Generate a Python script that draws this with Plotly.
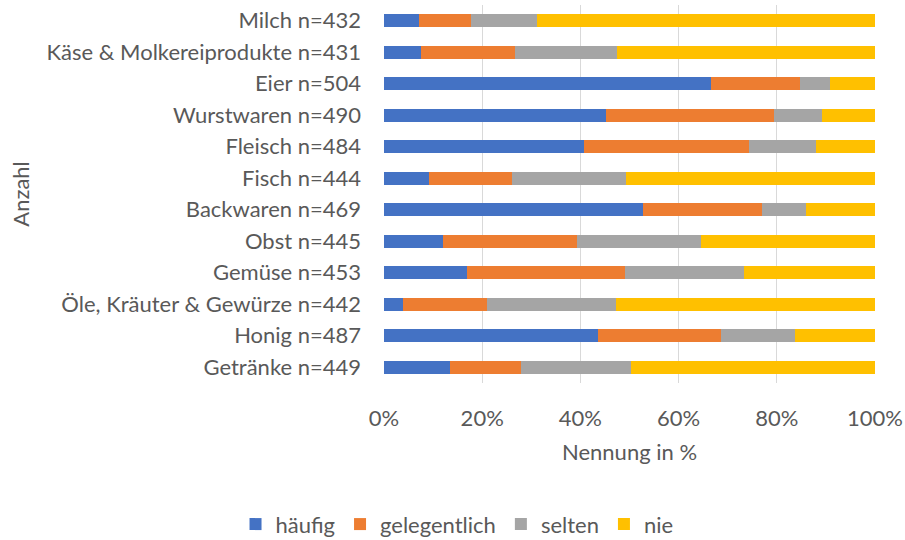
import plotly.graph_objects as go

categories = ["Milch n=432", "Käse & Molkereiprodukte n=431", "Eier n=504", "Wurstwaren n=490",
              "Fleisch n=484", "Fisch n=444", "Backwaren n=469", "Obst n=445", "Gemüse n=453",
              "Öle, Kräuter & Gewürze n=442", "Honig n=487", "Getränke n=449"]
haeufig = [7.2, 7.5, 66.5, 45.3, 40.7, 9.2, 52.7, 12.0, 16.9, 3.9, 43.5, 13.5]
gelegentlich = [10.5, 19.2, 18.3, 34.1, 33.6, 16.8, 24.2, 27.4, 32.1, 17.1, 25.2, 14.5]
selten = [13.5, 20.8, 6.0, 9.8, 13.6, 23.2, 9.0, 25.1, 24.3, 26.2, 15.0, 22.4]
nie = [round(100 - a - b - c, 1) for a, b, c in zip(haeufig, gelegentlich, selten)]
x_ticks = [0, 20, 40, 60, 80, 100]
x_tick_labels = ["0%", "20%", "40%", "60%", "80%", "100%"]

series = [("häufig", haeufig, "#4472C4"), ("gelegentlich", gelegentlich, "#ED7D31"),
          ("selten", selten, "#A5A5A5"), ("nie", nie, "#FFC000")]

FONT = "Lato, Calibri, sans-serif"
FS = 22
fig = go.Figure()
for name, vals, col in series:
    fig.add_trace(go.Bar(y=categories, x=vals, name=name, orientation="h",
                         marker=dict(color=col, line=dict(width=0)), width=0.4))

fig.update_layout(
    barmode="stack", width=905, height=540,
    margin=dict(l=384, r=30, t=5, b=157),
    paper_bgcolor="white", plot_bgcolor="white",
    font=dict(family=FONT, size=FS, color="#595959"),
    xaxis=dict(range=[0, 100], tickvals=x_ticks, ticktext=x_tick_labels, showgrid=True,
               gridcolor="#D9D9D9", gridwidth=1, zeroline=False, showline=False,
               automargin=False, ticklabelstandoff=20, tickfont=dict(size=FS, color="#595959")),
    yaxis=dict(autorange="reversed", showgrid=False, showline=False, zeroline=False,
               automargin=False, ticklabelstandoff=22, tickfont=dict(size=FS, color="#595959")),
    legend=dict(orientation="h", xref="container", yref="container", x=0.505, y=0.068,
                xanchor="center", yanchor="top", font=dict(size=FS, color="#595959"),
                traceorder="normal", itemwidth=30),
    annotations=[
        dict(text="Nennung in %", xref="paper", yref="paper", x=0.5, y=-0.18,
             showarrow=False, font=dict(size=FS, color="#595959"), yanchor="middle"),
        dict(text="Anzahl", xref="paper", yref="paper", x=-0.742, y=0.5, textangle=-90,
             showarrow=False, font=dict(size=FS, color="#595959"), xanchor="center"),
    ],
)
fig.write_html("out.html", config={"displayModeBar": False},
               post_script="document.body.style.margin='0';")
